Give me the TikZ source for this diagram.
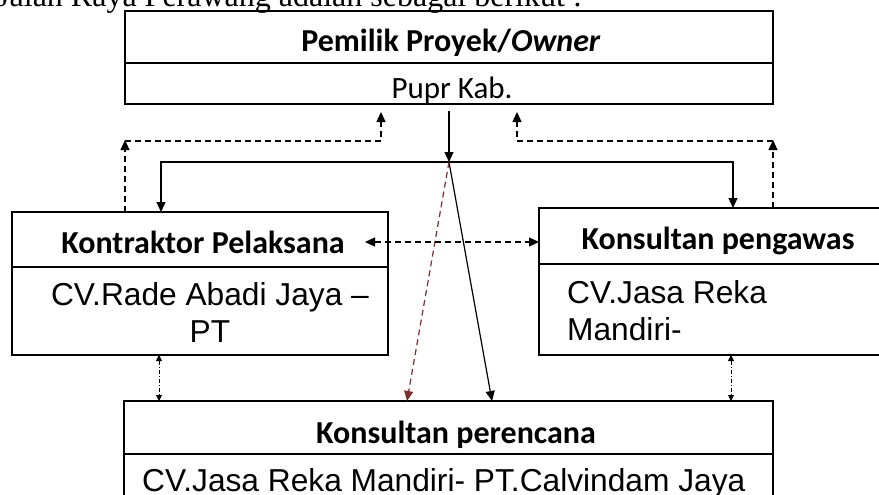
\documentclass[tikz,border=0pt]{standalone}
\usepackage{fontspec}
\setmainfont{Liberation Serif}
\newfontfamily\carl{Carlito}
\newfontfamily\arl{Liberation Sans}
\newfontfamily\tms{Liberation Serif}
\usetikzlibrary{arrows.meta,calc}
\definecolor{darkred}{HTML}{7A2E2E}
\tikzset{
  boxrow/.style={draw, line width=1.5pt, rectangle, inner sep=0pt, outer sep=0pt},
  ttl/.style={font=\carl\bfseries\fontsize{32}{38}\selectfont, inner sep=0pt, anchor=base},
  sub/.style={font=\carl\fontsize{31}{37}\selectfont, inner sep=0pt, anchor=base},
  cnt/.style={font=\arl\fontsize{31.7}{38}\selectfont, inner sep=0pt, anchor=base},
  conn/.style={line width=1.2pt, -{Triangle[length=10pt,width=9pt]}},
  dconn/.style={line width=1.2pt, dash pattern=on 6pt off 4pt, -{Triangle[length=10pt,width=9pt]}},
  dboth/.style={line width=1.2pt, dash pattern=on 6pt off 4pt, {Triangle[length=10pt,width=9pt]}-{Triangle[length=10pt,width=9pt]}},
  ddot/.style={line width=0.9pt, dash pattern=on 4pt off 2pt on 1pt off 2pt, {Triangle[length=6pt,width=6pt]}-{Triangle[length=6pt,width=6pt]}},
  rconn/.style={line width=1.2pt, draw=darkred, dash pattern=on 6pt off 4pt, -{Triangle[length=10pt,width=9pt,fill=darkred]}}
}
\begin{document}
\begin{tikzpicture}[x=1pt,y=-1pt]
\useasboundingbox (0,0) rectangle (879,495);
\clip (0,0) rectangle (879,495);
% top cut text
\node[font=\tms\fontsize{32}{38}\selectfont, inner sep=0pt, anchor=base west] (intro) at (-3,7) {Jalan Raya Perawang adalah sebagai berikut :};
% Owner
\node[boxrow, minimum width=648pt, minimum height=52pt] (own1) at (449,37) {};
\node[boxrow, minimum width=648pt, minimum height=41pt] (own2) at (449,83.5) {};
\node[ttl] (ownt) at (451,52) {Pemilik Proyek/\textit{Owner}};
\node[sub] (owns) at (452,99) {Pupr Kab.};
% Kontraktor
\node[boxrow, minimum width=376pt, minimum height=55pt] (kon1) at (200,239.5) {};
\node[boxrow, minimum width=376pt, minimum height=88pt] (kon2) at (200,311) {};
\node[ttl] (kont) at (203,253) {Kontraktor Pelaksana};
\node[cnt] (kons) at (210,305) {CV.Rade Abadi Jaya \textendash};
\node[cnt] (kons2) at (210,342) {PT};
% Pengawas
\node[boxrow, minimum width=360pt, minimum height=56pt] (pen1) at (719,236) {};
\node[boxrow, minimum width=360pt, minimum height=91pt] (pen2) at (719,309.5) {};
\node[ttl] (pent) at (718,249) {Konsultan pengawas};
\node[cnt, anchor=base west] (pens) at (567,303) {CV.Jasa Reka};
\node[cnt, anchor=base west] (pens2) at (567,340) {Mandiri-};
% Perencana
\node[boxrow, minimum width=649pt, minimum height=53pt] (per1) at (448.5,427.5) {};
\node[boxrow, minimum width=649pt, minimum height=60pt] (per2) at (448.5,484) {};
\node[ttl] (pert) at (456,443) {Konsultan perencana};
\node[cnt, anchor=base west] (pers) at (142,491) {CV.Jasa Reka Mandiri- PT.Calvindam Jaya};
% coordinates
\coordinate (ownout) at (449,111);
\coordinate (hub) at (449,162);
\coordinate (kl) at (161,162);
\coordinate (kr) at (733,162);
\coordinate (dl) at (125,141);
\coordinate (dlt) at (381,112);
\coordinate (dr) at (773,141);
\coordinate (drt) at (517,112);
\coordinate (solidend) at (492,401);
\coordinate (redend) at (407,401);
% solid distribution
\draw[conn] (ownout) -- (hub);
\draw[conn] (hub) -| (kon1.north -| kl);
\draw[conn] (hub) -| (pen1.north -| kr);
\draw[conn] (hub) -- (solidend);
\draw[rconn] (hub) -- (redend);
% dashed reports
\draw[dconn] (kon1.north -| dl) -- ([yshift=1pt]dl);
\draw[dconn] (dl) -| (dlt);
\draw[dconn] (pen1.north -| dr) -- ([yshift=1pt]dr);
\draw[dconn] (dr) -| (drt);
% coordination
\coordinate (hl) at (365,242);
\draw[dboth] (hl) -- (pen1.west |- hl);
\coordinate (ddl) at (159,355);
\coordinate (ddr) at (731,355);
\draw[ddot] (kon2.south -| ddl) -- (per1.north -| ddl);
\draw[ddot] (pen2.south -| ddr) -- (per1.north -| ddr);
\end{tikzpicture}
\end{document}
